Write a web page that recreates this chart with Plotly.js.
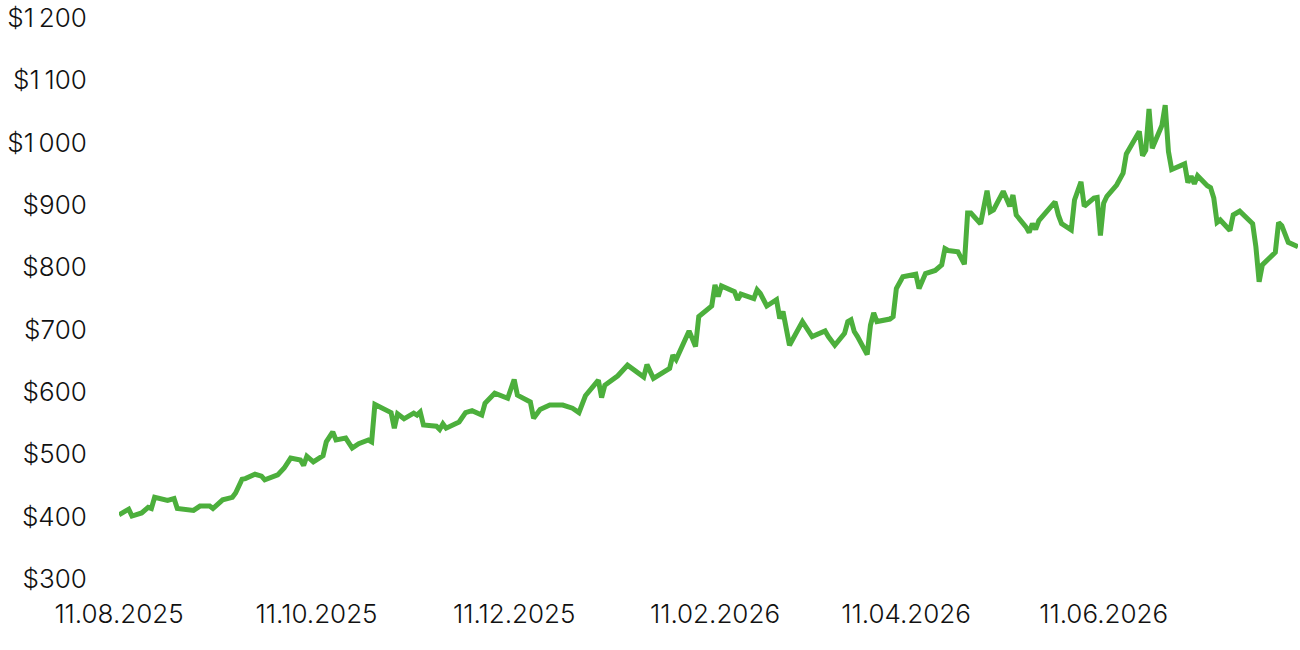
<!DOCTYPE html>
<html>
<head>
<meta charset="utf-8">
<script src="https://cdn.plot.ly/plotly-3.0.1.min.js"></script>
<style>html,body{margin:0;padding:0;background:#fff;}#chart{width:1300px;height:650px;}</style>
</head>
<body>
<div id="chart"></div>
<script>
const dates = [
"2025-08-11","2025-08-14","2025-08-15","2025-08-18","2025-08-20","2025-08-21","2025-08-22","2025-08-26","2025-08-28","2025-08-29",
"2025-09-03","2025-09-05","2025-09-08","2025-09-09","2025-09-12","2025-09-15","2025-09-16","2025-09-18","2025-09-19","2025-09-22",
"2025-09-24","2025-09-25","2025-09-29","2025-10-01","2025-10-03","2025-10-06","2025-10-07","2025-10-08","2025-10-10","2025-10-13",
"2025-10-14","2025-10-16","2025-10-17","2025-10-20","2025-10-22","2025-10-24","2025-10-27","2025-10-28","2025-10-29","2025-10-31",
"2025-11-03","2025-11-04","2025-11-05","2025-11-07","2025-11-10","2025-11-11","2025-11-12","2025-11-13","2025-11-17","2025-11-18",
"2025-11-19","2025-11-20","2025-11-24","2025-11-26","2025-11-28","2025-12-01","2025-12-02","2025-12-05","2025-12-09","2025-12-11",
"2025-12-12","2025-12-16","2025-12-17","2025-12-19","2025-12-22","2025-12-26","2025-12-29","2025-12-31","2026-01-02","2026-01-06",
"2026-01-07","2026-01-08","2026-01-12","2026-01-15","2026-01-20","2026-01-21","2026-01-23","2026-01-28","2026-01-29","2026-01-30",
"2026-02-03","2026-02-05","2026-02-06","2026-02-10","2026-02-11","2026-02-12","2026-02-13","2026-02-17","2026-02-18","2026-02-19",
"2026-02-23","2026-02-24","2026-02-25","2026-02-27","2026-03-02","2026-03-03","2026-03-04","2026-03-06","2026-03-10","2026-03-13",
"2026-03-17","2026-03-18","2026-03-20","2026-03-23","2026-03-24","2026-03-25","2026-03-26","2026-03-27","2026-03-30","2026-03-31",
"2026-04-01","2026-04-02","2026-04-06","2026-04-07","2026-04-08","2026-04-10","2026-04-14","2026-04-15","2026-04-17","2026-04-20",
"2026-04-22","2026-04-23","2026-04-24","2026-04-27","2026-04-29","2026-04-30","2026-05-01","2026-05-04","2026-05-06","2026-05-07",
"2026-05-08","2026-05-11","2026-05-13","2026-05-14","2026-05-15","2026-05-18","2026-05-19","2026-05-20","2026-05-21","2026-05-22",
"2026-05-27","2026-05-28","2026-05-29","2026-06-01","2026-06-02","2026-06-04","2026-06-05","2026-06-08","2026-06-09","2026-06-10",
"2026-06-11","2026-06-12","2026-06-15","2026-06-17","2026-06-18","2026-06-22","2026-06-23","2026-06-24","2026-06-25","2026-06-26",
"2026-06-29","2026-06-30","2026-07-01","2026-07-02","2026-07-06","2026-07-07","2026-07-08","2026-07-09","2026-07-10","2026-07-13",
"2026-07-14","2026-07-15","2026-07-16","2026-07-17","2026-07-20","2026-07-21","2026-07-22","2026-07-23","2026-07-27","2026-07-28",
"2026-07-29","2026-07-30","2026-08-03","2026-08-04","2026-08-05","2026-08-07","2026-08-10"
];
const prices = [
403,412,401,406,415,413,431,426,429,413,
410,417,417,413,427,431,438,460,461,468,
465,459,467,478,494,491,482,497,488,498,
520,536,523,526,510,517,523,520,580,574,
567,542,565,557,566,563,568,547,545,540,
549,542,552,567,570,563,582,598,590,620,
595,584,558,572,579,579,574,567,594,619,
591,611,626,643,624,644,622,638,659,652,
698,673,721,738,772,753,770,761,748,757,
750,764,758,738,748,718,729,675,713,689,
698,689,675,694,713,716,697,689,660,707,
727,713,717,721,766,785,789,766,790,795,
804,830,827,825,805,887,887,870,923,889,
892,922,898,916,884,865,856,870,861,875,
905,884,870,860,908,937,898,911,912,851,
903,914,932,951,982,1018,979,988,1054,991,
1028,1060,986,957,966,936,946,934,947,931,
928,911,872,876,859,884,886,890,870,833,
777,804,824,872,867,840,833
];
const yTickVals = [300,400,500,600,700,800,900,1000,1100,1200];
const yTickText = ["$300","$400","$500","$600","$700","$800","$900","$1\u2009000","$1\u2009100","$1\u2009200"];
const xTickVals = ["2025-08-11","2025-10-11","2025-12-11","2026-02-11","2026-04-11","2026-06-11"];
const xTickText = ["11.08.2025","11.10.2025","11.12.2025","11.02.2026","11.04.2026","11.06.2026"];

const trace = {
  x: dates, y: prices, type: 'scatter', mode: 'lines',
  line: {color: '#4caf3c', width: 5, shape: 'linear'},
  hoverinfo: 'x+y'
};
const tf = {family: 'Inter, "Open Sans", sans-serif', size: 26, color: '#111', weight: 300};
const layout = {
  width: 1300, height: 650,
  margin: {l: 119, r: 2, t: 18, b: 71},
  paper_bgcolor: '#fff', plot_bgcolor: '#fff',
  showlegend: false,
  font: tf,
  xaxis: {
    type: 'date',
    range: ['2025-08-11', '2026-08-10'],
    tickmode: 'array', tickvals: xTickVals, ticktext: xTickText,
    showgrid: false, zeroline: false, showline: false,
    ticks: 'outside', ticklen: 12, tickcolor: 'rgba(0,0,0,0)',
    tickfont: tf
  },
  yaxis: {
    range: [300, 1200],
    tickmode: 'array', tickvals: yTickVals, ticktext: yTickText,
    showgrid: false, zeroline: false, showline: false,
    ticks: 'outside', ticklen: 26, tickcolor: 'rgba(0,0,0,0)',
    tickfont: tf
  }
};
Plotly.newPlot('chart', [trace], layout, {displayModeBar: false, staticPlot: true});
</script>
</body>
</html>
